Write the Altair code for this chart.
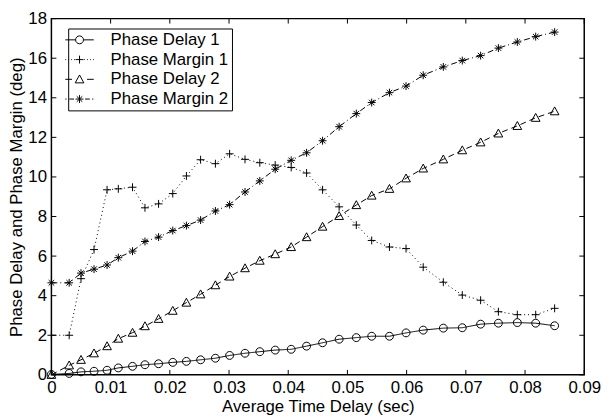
import altair as alt
import pandas as pd

# ---- data ----
series = ["Phase Delay 1", "Phase Margin 1", "Phase Delay 2", "Phase Margin 2"]

time_delay = [0, 0.003, 0.005, 0.0072, 0.0094, 0.0113, 0.0137, 0.0158, 0.0181,
              0.0205, 0.0228, 0.0252, 0.0277, 0.0301, 0.0327, 0.0352, 0.0378,
              0.0405, 0.0431, 0.0458, 0.0486, 0.0515, 0.0541, 0.0571, 0.0599,
              0.0628, 0.0662, 0.0694, 0.0725, 0.0755, 0.0787, 0.0818, 0.085]

phase_delay_1 = [0.02, 0.07, 0.15, 0.18, 0.23, 0.35, 0.43, 0.51, 0.56, 0.63, 0.68,
                 0.76, 0.84, 0.98, 1.09, 1.17, 1.25, 1.29, 1.45, 1.62, 1.80, 1.88,
                 1.95, 1.95, 2.12, 2.26, 2.36, 2.38, 2.56, 2.61, 2.64, 2.61, 2.48]

phase_margin_1 = [2.0, 2.0, 4.86, 6.33, 9.35, 9.40, 9.48, 8.44, 8.64, 9.16, 10.05,
                  10.87, 10.67, 11.17, 10.89, 10.72, 10.6, 10.48, 10.2, 9.35, 8.49,
                  7.57, 6.79, 6.46, 6.38, 5.44, 4.68, 4.03, 3.77, 3.19, 3.04, 3.04, 3.36]

phase_delay_2 = [0.0, 0.48, 0.76, 1.09, 1.45, 1.83, 2.13, 2.46, 2.83, 3.24, 3.65,
                 4.07, 4.53, 4.97, 5.39, 5.77, 6.10, 6.46, 6.96, 7.49, 8.03, 8.58,
                 9.06, 9.40, 9.93, 10.43, 10.89, 11.35, 11.75, 12.2, 12.58, 12.99, 13.32]

phase_margin_2 = [4.65, 4.65, 5.14, 5.34, 5.55, 5.92, 6.25, 6.74, 6.96, 7.29, 7.54,
                  7.82, 8.28, 8.6, 9.24, 9.80, 10.39, 10.84, 11.22, 11.83, 12.54, 13.2,
                  13.76, 14.26, 14.59, 15.14, 15.56, 15.88, 16.13, 16.51, 16.82, 17.09, 17.32]

x_ticks = [0, 0.01, 0.02, 0.03, 0.04, 0.05, 0.06, 0.07, 0.08, 0.09]
y_ticks = [0, 2, 4, 6, 8, 10, 12, 14, 16, 18]

# ---- long table ----
rows = []
for name, vals in zip(series, [phase_delay_1, phase_margin_1, phase_delay_2, phase_margin_2]):
    for xv, yv in zip(time_delay, vals):
        rows.append({"x": xv, "y": yv, "series": name})
df = pd.DataFrame(rows)
xt = pd.DataFrame({"x": x_ticks})
yt = pd.DataFrame({"y": y_ticks})

W, H = 540, 361
FONT = "Liberation Sans"
FS = 17

xscale = alt.Scale(domain=[0, 0.09], nice=False, zero=False)
yscale = alt.Scale(domain=[0, 18], nice=False, zero=False)

# identical axis definitions are used in every layer so Vega-Lite merges them
x_enc = alt.X("x:Q", scale=xscale,
              axis=alt.Axis(values=x_ticks, format=".2~f", title="Average Time Delay (sec)",
                            ticks=False, grid=False, domain=False, labelPadding=5,
                            labelFlush=False, titlePadding=3))
y_enc = alt.Y("y:Q", scale=yscale,
              axis=alt.Axis(values=y_ticks, format="d", title="Phase Delay and Phase Margin (deg)",
                            ticks=False, grid=False, domain=False, labelPadding=5,
                            labelFlush=False, titlePadding=2))

dashes = [[1, 0], [1, 3], [6, 4], [6, 3, 1, 3]]

circle_p = "M1,0A1,1 0 1,1 -1,0A1,1 0 1,1 1,0Z"
plus_p = "M-1,0H1M0,-1V1"
tri_p = "M0,-1.1L1.1,0.9L-1.1,0.9Z"
star_p = "M-1,0H1M0,-1V1M-0.7,-0.7L0.7,0.7M-0.7,0.7L0.7,-0.7"
marker_paths = [circle_p, plus_p, tri_p, star_p]

legend_paths = [
    "M-3.6,0H-1M1,0H3.6" + "M1,0A1,1 0 1,1 -1,0A1,1 0 1,1 1,0",
    "M-3.6,0h0.2M-2.85,0h0.2M-2.1,0h0.2M-1.4,0h0.2M1.2,0h0.2M1.95,0h0.2M2.7,0h0.2M3.4,0h0.2" + plus_p,
    "M-3.6,0H-1.9M1.9,0H3.6" + tri_p,
    "M-3.6,0h0.3M-2.6,0H-1.4M1.4,0H2.6M3.2,0h0.3" + star_p,
]

base = alt.Chart(df)

lines = base.mark_line(color="black", strokeWidth=1).encode(
    x=x_enc, y=y_enc,
    strokeDash=alt.StrokeDash("series:N", scale=alt.Scale(domain=series, range=dashes), legend=None),
)

points = base.mark_point(filled=False, color="black", opacity=1, strokeWidth=1, size=64).encode(
    x=x_enc, y=y_enc,
    shape=alt.Shape("series:N", scale=alt.Scale(domain=series, range=marker_paths), legend=None),
)

legend_layer = base.mark_point(filled=False, color="black", opacity=0, size=64).encode(
    x=x_enc, y=y_enc,
    shape=alt.Shape("series:N", scale=alt.Scale(domain=series, range=legend_paths),
                    legend=alt.Legend(title=None, orient="none", legendX=17, legendY=10,
                                      strokeColor="black", fillColor="white", padding=3,
                                      labelFont=FONT, labelFontSize=FS, labelColor="black",
                                      labelOffset=23, labelLimit=300,
                                      symbolSize=64, symbolStrokeColor="black",
                                      symbolStrokeWidth=1, symbolFillColor="transparent",
                                      symbolOpacity=1, rowPadding=2)),
)

bottom_ticks = alt.Chart(xt).mark_rule(color="black", strokeWidth=1).encode(
    x=x_enc, y=alt.value(H), y2=alt.value(H - 5))
top_ticks = alt.Chart(xt).mark_rule(color="black", strokeWidth=1).encode(
    x=x_enc, y=alt.value(0), y2=alt.value(5))
left_ticks = alt.Chart(yt).mark_rule(color="black", strokeWidth=1).encode(
    y=y_enc, x=alt.value(0), x2=alt.value(5))
right_ticks = alt.Chart(yt).mark_rule(color="black", strokeWidth=1).encode(
    y=y_enc, x=alt.value(W), x2=alt.value(W - 5))

chart = alt.layer(
    lines, points, legend_layer, bottom_ticks, top_ticks, left_ticks, right_ticks
).resolve_scale(
    shape="independent"
).properties(
    width=W, height=H,
    autosize=alt.AutoSizeParams(type="none"),
    padding={"left": 44, "top": 8, "right": 18, "bottom": 43},
    background="white",
).configure_view(
    stroke="black", strokeWidth=1.5
).configure_axis(
    labelFont=FONT, labelFontSize=FS, labelColor="black",
    titleFont=FONT, titleFontSize=FS, titleFontWeight="normal", titleColor="black",
)

chart.save("out.html", embed_options={"renderer": "svg", "actions": False})
